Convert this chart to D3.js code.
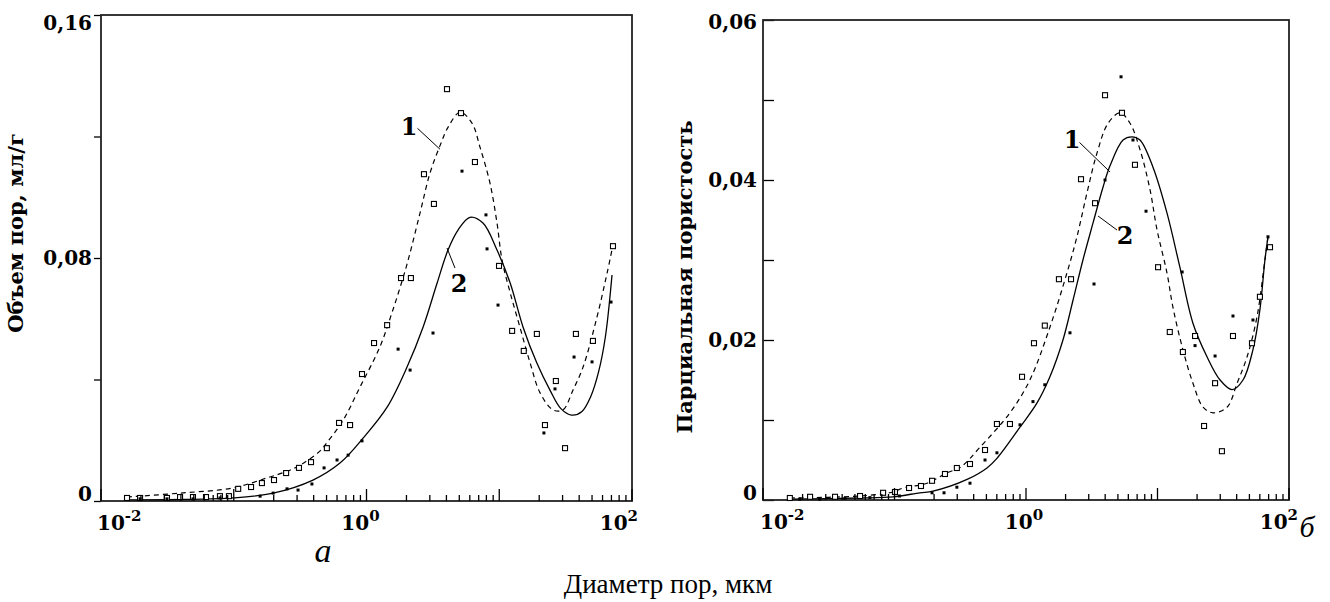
<!DOCTYPE html>
<html>
<head>
<meta charset="utf-8">
<script src="https://cdn.jsdelivr.net/npm/d3@7"></script>
<style>
  body { margin: 0; background: #fff; }
</style>
</head>
<body>
<svg id="chart" width="1330" height="602"></svg>
<script>
// panel "а": pore volume, ml/g  -- [diameter um, value]
const aCurve1 = [[0.0157,0.0013],[0.0394,0.0026],[0.0986,0.0043],[0.178,0.0076],[0.252,0.0098],[0.316,0.0118],[0.447,0.0165],[0.503,0.0192],[0.665,0.0265],[0.893,0.0375],[1.26,0.0507],[1.58,0.0629],[2.02,0.078],[2.53,0.0948],[3.01,0.108],[3.58,0.117],[4.11,0.123],[5.06,0.128],[6.23,0.1244],[7.16,0.1165],[8.51,0.1047],[9.62,0.0915],[10.5,0.0793],[12.1,0.0685],[14.3,0.0573],[17.1,0.0454],[20.3,0.0356],[25.4,0.030],[30.2,0.030],[35.9,0.0365],[42.8,0.0441],[54.5,0.0606],[64.9,0.075],[71.9,0.0843]];
const aCurve2 = [[0.0157,0.0004],[0.0394,0.0005],[0.0986,0.001],[0.198,0.0026],[0.395,0.0069],[0.631,0.0125],[0.942,0.0207],[1.43,0.0309],[2.02,0.0441],[2.67,0.0573],[3.40,0.0717],[4.11,0.0826],[4.89,0.0892],[6.02,0.0934],[7.54,0.0915],[9.62,0.0826],[12.1,0.0717],[15.1,0.0573],[19.2,0.0454],[24.1,0.0365],[29.0,0.0305],[35.0,0.0283],[42.0,0.0295],[49.0,0.0345],[56.0,0.0425],[63.0,0.054],[70.7,0.0744]];
const aPoints1 = [[0.0157,0.001],[0.0197,0.001],[0.0314,0.001],[0.0394,0.0013],[0.0493,0.0013],[0.0618,0.0013],[0.0787,0.0016],[0.092,0.0016],[0.108,0.004],[0.135,0.0046],[0.163,0.0059],[0.201,0.0069],[0.248,0.0092],[0.31,0.0109],[0.382,0.0128],[0.503,0.0174],[0.621,0.0257],[0.752,0.025],[0.925,0.0418],[1.14,0.052],[1.43,0.0579],[1.82,0.0734],[2.16,0.0734],[2.71,0.1076],[3.22,0.0978],[4.04,0.1356],[5.15,0.1277],[6.56,0.1116],[9.96,0.0774],[12.5,0.056],[15.3,0.0494],[19.2,0.055],[22.1,0.025],[26.7,0.0395],[31.3,0.0174],[37.8,0.055],[50.8,0.0527],[71.9,0.0839]];
const aPoints2 = [[0.0197,0.0007],[0.0314,0.0007],[0.0493,0.0007],[0.0787,0.001],[0.158,0.0016],[0.198,0.0026],[0.252,0.004],[0.305,0.0036],[0.388,0.0056],[0.479,0.0109],[0.6,0.0135],[0.727,0.0151],[0.925,0.0198],[1.73,0.05],[2.13,0.0431],[3.17,0.0553],[5.24,0.1086],[7.94,0.0942],[8.09,0.083],[9.79,0.0645],[21.7,0.0224],[26.3,0.0369],[36.6,0.0474],[50.0,0.0458],[69.5,0.0655]];

// panel "б": partial porosity
const bCurve1 = [[0.016,0.00025],[0.0547,0.0005],[0.0975,0.001],[0.116,0.0015],[0.177,0.0021],[0.251,0.0034],[0.318,0.0041],[0.447,0.0066],[0.755,0.0109],[1.07,0.015],[1.52,0.0216],[2.05,0.0284],[2.44,0.0329],[2.91,0.0384],[3.47,0.0434],[4.21,0.0471],[5.19,0.0484],[6.18,0.0471],[7.36,0.0438],[8.77,0.0388],[9.91,0.0338],[11.8,0.0284],[13.1,0.0241],[15.6,0.0188],[18.6,0.0146],[22.2,0.0116],[26.4,0.0109],[33.8,0.0116],[40.3,0.0146],[48.0,0.0179],[57.1,0.0229],[65.6,0.03],[69.2,0.0329]];
const bCurve2 = [[0.016,0.0001],[0.0547,0.00025],[0.0975,0.0004],[0.156,0.0009],[0.196,0.0011],[0.36,0.0026],[0.505,0.0040],[0.601,0.0052],[0.90,0.0091],[1.21,0.0121],[1.52,0.0154],[1.91,0.02],[2.28,0.025],[2.71,0.03],[3.23,0.0346],[3.85,0.0391],[4.36,0.0418],[5.47,0.045],[6.40,0.0454],[7.36,0.045],[9.24,0.0416],[11.8,0.0359],[14.8,0.0291],[18.6,0.0221],[23.8,0.0179],[29.9,0.015],[36.9,0.0138],[44.7,0.015],[53.2,0.0188],[60.1,0.0238],[65.6,0.03],[69.2,0.0329]];
const bPoints1 = [[0.016,0.00025],[0.0228,0.0004],[0.0353,0.0004],[0.0547,0.0005],[0.0819,0.0009],[0.1008,0.001],[0.129,0.0015],[0.159,0.00175],[0.193,0.0024],[0.242,0.00325],[0.298,0.004],[0.375,0.0045],[0.488,0.00625],[0.601,0.0095],[0.755,0.0095],[0.933,0.0154],[1.15,0.0196],[1.39,0.0218],[1.78,0.0276],[2.20,0.0276],[2.62,0.0401],[3.35,0.0371],[3.99,0.0506],[5.37,0.0484],[6.74,0.0419],[10.1,0.0291],[12.4,0.021],[15.6,0.0185],[19.3,0.0205],[22.6,0.00925],[27.4,0.0146],[30.9,0.0061],[37.5,0.0205],[52.3,0.0196],[60.1,0.0254],[71.7,0.0316]];
const bPoints2 = [[0.019,0.0001],[0.027,0.0001],[0.042,0.0002],[0.065,0.0003],[0.109,0.0005],[0.193,0.0009],[0.238,0.0009],[0.298,0.0016],[0.375,0.0021],[0.488,0.005],[0.601,0.0059],[0.90,0.0094],[1.13,0.0123],[1.39,0.0144],[2.16,0.0209],[3.29,0.027],[3.99,0.04],[5.28,0.0529],[6.51,0.045],[8.18,0.0361],[15.4,0.0285],[19.3,0.0193],[27.4,0.018],[37.5,0.023],[53.2,0.0225],[69.2,0.0329]];

// ticks
const xDomain = [0.01, 100];
const xDecades = [0.01, 0.1, 1, 10, 100];
const xLabelTicks = [0.01, 1, 100];
const xLabelExps = ["-2", "0", "2"];
const aYTicks = [0, 0.04, 0.08, 0.12, 0.16];
const aYLabels = [0, 0.08, 0.16];
const bYTicks = [0, 0.01, 0.02, 0.03, 0.04, 0.05, 0.06];
const bYLabels = [0, 0.02, 0.04, 0.06];

// curve numbers with leader lines: label at, line from -> to
const aNotes = [
  { label: "1", at: [2.09, 0.1234], from: [2.42, 0.1227], to: [3.58, 0.1158] },
  { label: "2", at: [4.98, 0.0717], from: [4.64, 0.0767], to: [4.04, 0.0833] },
];
const bNotes = [
  { label: "1", at: [2.24, 0.0451], from: [2.55, 0.0447], to: [4.36, 0.041] },
  { label: "2", at: [5.66, 0.0331], from: [4.92, 0.03375], to: [3.53, 0.0355] },
];

const svg = d3.select("#chart");
const boldSerif = "'DejaVu Serif', serif";
const plainSerif = "'Liberation Serif', 'Times New Roman', serif";

function drawPanel(p) {
  const x = d3.scaleLog().domain(xDomain).range([p.left, p.right]);
  const y = d3.scaleLinear().domain([0, p.yMax]).range([p.bottom, p.top]);
  const g = svg.append("g");

  xLabelTicks.forEach((v, i) => {
    const anchor = i === 0 ? "start" : i === xLabelTicks.length - 1 ? "end" : "middle";
    const dx = i === 0 ? p.labDx[0] : i === xLabelTicks.length - 1 ? p.labDx[2] : p.labDx[1];
    const t = g.append("text")
      .attr("x", x(v) + dx)
      .attr("y", p.bottom + 29)
      .attr("text-anchor", anchor)
      .attr("font-family", boldSerif)
      .attr("font-weight", "bold")
      .attr("font-size", 20);
    t.append("tspan").text("10");
    t.append("tspan").attr("dy", -9).attr("font-size", 15).text(xLabelExps[i]);
  });

  // y axis
  const yAxis = g.append("g")
    .attr("transform", `translate(${p.left},0)`)
    .call(
      d3.axisLeft(y)
        .tickValues(p.yTicks)
        .tickSize(p.yTickSize)
        .tickPadding(p.yPad)
        .tickFormat((d) => (p.yLabels.includes(d) ? (d === 0 ? "0" : d.toFixed(2).replace(".", ",")) : ""))
    );
  yAxis.select(".domain").remove();
  yAxis.attr("font-family", boldSerif).attr("font-size", 20).attr("font-weight", "bold");
  yAxis.selectAll(".tick line").attr("stroke", "#000").attr("stroke-width", 1.3);
  yAxis.selectAll(".tick text")
    .attr("fill", "#000")
    .attr("dy", (d) => (d === 0 ? p.zeroDy : d === p.yMax ? p.topDy : "0.32em"));

  // frame
  g.append("rect")
    .attr("x", p.left)
    .attr("y", p.top)
    .attr("width", p.right - p.left)
    .attr("height", p.bottom - p.top)
    .attr("fill", "none")
    .attr("stroke", "#222")
    .attr("stroke-width", 1.8);

  const line = d3.line()
    .x((d) => x(d[0]))
    .y((d) => y(d[1]))
    .curve(d3.curveCatmullRom.alpha(0.5));

  g.append("path")
    .datum(p.curve1)
    .attr("d", line)
    .attr("fill", "none")
    .attr("stroke", "#000")
    .attr("stroke-width", 1.2)
    .attr("stroke-dasharray", "5,4");
  g.append("path")
    .datum(p.curve2)
    .attr("d", line)
    .attr("fill", "none")
    .attr("stroke", "#000")
    .attr("stroke-width", 1.3);

  g.selectAll("rect.sq")
    .data(p.points1)
    .join("rect")
    .attr("class", "sq")
    .attr("x", (d) => x(d[0]) - 2.5)
    .attr("y", (d) => y(d[1]) - 2.5)
    .attr("width", 5)
    .attr("height", 5)
    .attr("fill", "#fff")
    .attr("stroke", "#000")
    .attr("stroke-width", 1.1);
  g.selectAll("rect.dot")
    .data(p.points2)
    .join("rect")
    .attr("class", "dot")
    .attr("x", (d) => x(d[0]) - 1.5)
    .attr("y", (d) => y(d[1]) - 1.5)
    .attr("width", 3)
    .attr("height", 3)
    .attr("fill", "#000");

  // x ticks point up into the plot, decades are longer (drawn over the markers)
  g.append("g")
    .selectAll("line")
    .data(x.ticks())
    .join("line")
    .attr("x1", (d) => x(d))
    .attr("x2", (d) => x(d))
    .attr("y1", p.bottom)
    .attr("y2", (d) => p.bottom - (xDecades.some((v) => Math.abs(v - d) < 1e-9) ? 12 : 6))
    .attr("stroke", "#000")
    .attr("stroke-width", 1.3);

  p.notes.forEach((n) => {
    g.append("line")
      .attr("x1", x(n.from[0])).attr("y1", y(n.from[1]))
      .attr("x2", x(n.to[0])).attr("y2", y(n.to[1]))
      .attr("stroke", "#000")
      .attr("stroke-width", 1);
    g.append("text")
      .attr("x", x(n.at[0]))
      .attr("y", y(n.at[1]))
      .attr("dy", "0.36em")
      .attr("text-anchor", "middle")
      .attr("font-family", boldSerif)
      .attr("font-weight", "bold")
      .attr("font-size", 24)
      .text(n.label);
  });

  // y title
  g.append("text")
    .attr("transform", `translate(${p.titleX},${p.titleY}) rotate(-90)`)
    .attr("text-anchor", "middle")
    .attr("font-family", boldSerif)
    .attr("font-weight", "bold")
    .attr("font-size", 21)
    .text(p.title);

  // panel letter
  g.append("text")
    .attr("x", p.letterX)
    .attr("y", p.letterY)
    .attr("text-anchor", "middle")
    .attr("font-family", plainSerif)
    .attr("font-style", "italic")
    .attr("font-size", p.letterSize)
    .text(p.letter);
}

drawPanel({
  left: 101, right: 632, top: 15, bottom: 501, yMax: 0.16,
  yTicks: aYTicks, yLabels: aYLabels, yTickSize: 7, yPad: 2,
  zeroDy: "-0.05em", topDy: "0.7em", labDx: [-4, -6, 6],
  curve1: aCurve1, curve2: aCurve2, points1: aPoints1, points2: aPoints2, notes: aNotes,
  title: "Объем пор, мл/г", titleX: 23, titleY: 233,
  letter: "а", letterX: 323, letterY: 562, letterSize: 34,
});

drawPanel({
  left: 763, right: 1289, top: 20, bottom: 500, yMax: 0.06,
  yTicks: bYTicks, yLabels: bYLabels, yTickSize: -11, yPad: 6,
  zeroDy: "-0.02em", topDy: "0.42em", labDx: [-3, -2, 9],
  curve1: bCurve1, curve2: bCurve2, points1: bPoints1, points2: bPoints2, notes: bNotes,
  title: "Парциальная пористость", titleX: 692, titleY: 277,
  letter: "б", letterX: 1307, letterY: 537, letterSize: 30,
});

svg.append("text")
  .attr("x", 668)
  .attr("y", 593)
  .attr("text-anchor", "middle")
  .attr("font-family", plainSerif)
  .attr("font-size", 27)
  .text("Диаметр пор, мкм");
</script>
</body>
</html>
